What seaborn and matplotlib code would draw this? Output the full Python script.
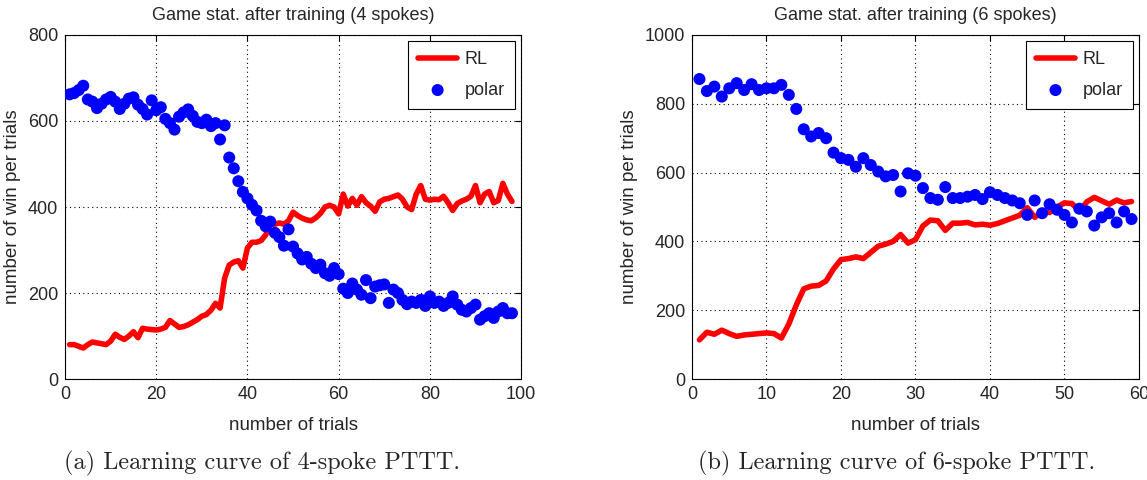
import pandas as pd
import matplotlib
matplotlib.use("Agg")
import matplotlib.pyplot as plt
import seaborn as sns
import numpy as np

# 4 spokes
trials_4 = list(range(1, 99))
rl_4 = [80, 80, 76, 72, 80, 86, 84, 82, 80, 88,
        104, 97, 92, 100, 110, 96, 118, 116, 115, 114,
        116, 120, 136, 128, 120, 122, 126, 132, 138, 146,
        150, 160, 176, 165, 235, 265, 272, 275, 258, 305,
        318, 318, 322, 335, 362, 360, 363, 360, 368, 388,
        380, 374, 370, 368, 375, 385, 400, 404, 400, 384,
        430, 402, 420, 404, 424, 410, 402, 390, 412, 418,
        420, 424, 428, 418, 400, 394, 430, 450, 418, 416,
        418, 417, 425, 410, 392, 408, 414, 418, 425, 450,
        410, 430, 436, 410, 415, 455, 430, 413]
polar_4 = [662, 665, 672, 682, 650, 645, 630, 640, 650, 656,
           645, 628, 640, 652, 655, 638, 628, 615, 648, 625,
           632, 605, 595, 580, 610, 620, 627, 612, 598, 595,
           603, 588, 595, 557, 590, 515, 490, 460, 435, 420,
           405, 392, 368, 355, 366, 340, 330, 310, 348, 308,
           292, 278, 284, 268, 258, 266, 246, 240, 258, 244,
           210, 200, 222, 208, 196, 230, 188, 215, 218, 220,
           177, 208, 200, 184, 174, 180, 177, 184, 170, 192,
           177, 180, 170, 177, 192, 173, 161, 157, 165, 173,
           138, 146, 153, 142, 157, 165, 153, 153]

# 6 spokes
trials_6 = list(range(1, 60))
rl_6 = [114, 136, 130, 142, 132, 124, 128, 130, 132, 134,
        132, 119, 160, 215, 262, 270, 272, 285, 320, 347,
        350, 355, 350, 368, 386, 392, 400, 420, 395, 405,
        445, 462, 460, 432, 453, 453, 455, 448, 450, 447,
        452, 460, 468, 476, 498, 470, 485, 484, 500, 512,
        510, 488, 515, 528, 518, 508, 520, 512, 516]
polar_6 = [872, 837, 850, 821, 845, 860, 840, 857, 840, 845,
           845, 855, 826, 785, 726, 705, 715, 700, 658, 642,
           637, 617, 642, 622, 603, 589, 593, 545, 598, 591,
           555, 526, 521, 558, 526, 526, 530, 535, 523, 543,
           535, 526, 519, 511, 477, 519, 482, 508, 492, 477,
           455, 495, 487, 446, 470, 482, 455, 487, 465]

titles = ["Game stat. after training (4 spokes)", "Game stat. after training (6 spokes)"]
captions = ["(a) Learning curve of 4-spoke PTTT.", "(b) Learning curve of 6-spoke PTTT."]

sns.set_style("white")
plt.rcParams['font.family'] = ['Liberation Sans', 'DejaVu Sans']

fig = plt.figure(figsize=(11.47, 4.8), dpi=100)
ax1 = fig.add_axes([0.0567, 0.2104, 0.3976, 0.7167])
ax2 = fig.add_axes([0.6033, 0.2104, 0.3897, 0.7167])

panels = [
    (ax1, trials_4, rl_4, polar_4, 100, 800, titles[0]),
    (ax2, trials_6, rl_6, polar_6, 60, 1000, titles[1]),
]

for ax, t, rl, pol, xmax, ymax, title in panels:
    df = pd.DataFrame({"trial": t, "RL": rl, "polar": pol})
    sns.lineplot(data=df, x="trial", y="RL", ax=ax, color="#ff0000",
                 linewidth=4, label="RL")
    sns.scatterplot(data=df, x="trial", y="polar", ax=ax, color="#0000ff",
                    s=75, edgecolor="none", label="polar", zorder=3)
    ax.set_xlim(0, xmax)
    ax.set_ylim(0, ymax)
    ax.set_xticks(np.linspace(0, xmax, 6 if xmax == 100 else 7))
    ax.set_yticks(np.linspace(0, ymax, 5 if ymax == 800 else 6))
    ax.grid(True, color="black", linestyle=(0, (1, 3)), linewidth=0.8)
    ax.tick_params(direction="in", top=True, right=True, length=4,
                   width=0.8, labelsize=13, color="black", pad=5)
    for sp in ax.spines.values():
        sp.set_color("black")
        sp.set_linewidth(0.8)
    ax.set_title(title, fontsize=13, pad=11)
    ax.set_xlabel("number of trials", fontsize=13.5, labelpad=10)
    ax.set_ylabel("number of win per trials", fontsize=13.5, labelpad=5)
    leg = ax.legend(loc="upper right", fancybox=False, framealpha=1,
                    edgecolor="black", fontsize=13, handlelength=2.2,
                    handletextpad=0.4, labelspacing=0.75, borderpad=0.55,
                    borderaxespad=0.35)
    leg.get_frame().set_linewidth(0.8)

fig.text(0.2285, 0.021, captions[0], family="cmr10", fontsize=17.5,
         ha="center", va="baseline")
fig.text(0.782, 0.021, captions[1], family="cmr10", fontsize=17.5,
         ha="center", va="baseline")

fig.savefig("out.png", dpi=100)
